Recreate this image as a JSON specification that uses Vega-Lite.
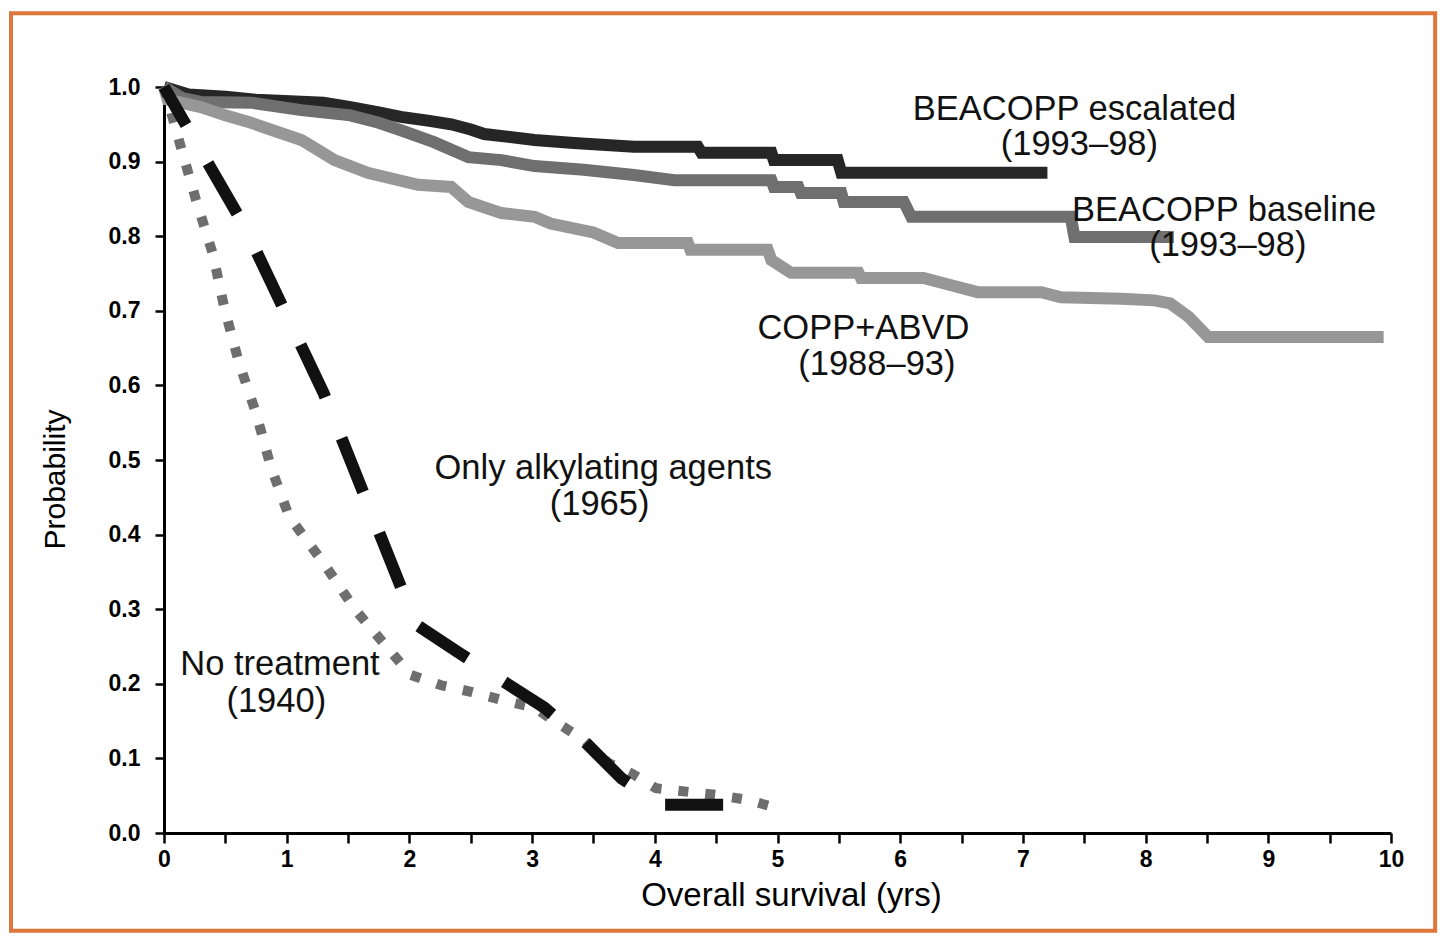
{
  "$schema": "https://vega.github.io/schema/vega-lite/v6.json",
  "width": 1227,
  "height": 746,
  "padding": {"left": 8, "top": 11, "right": 5, "bottom": 4},
  "background": "#ffffff",
  "config": {
    "view": {"stroke": null}
  },
  "datasets": {
    "frame": [
      {"t": -1.247, "t2": 10.36, "p": 1.099, "p2": -0.131}
    ],
    "curves": [
      {"curve": "esc", "t": 0, "p": 1.0},
      {"curve": "esc", "t": 0.2, "p": 0.99},
      {"curve": "esc", "t": 0.5, "p": 0.987},
      {"curve": "esc", "t": 0.75, "p": 0.983},
      {"curve": "esc", "t": 1.3, "p": 0.979},
      {"curve": "esc", "t": 1.52, "p": 0.973},
      {"curve": "esc", "t": 1.75, "p": 0.966},
      {"curve": "esc", "t": 1.93, "p": 0.96},
      {"curve": "esc", "t": 2.15, "p": 0.955},
      {"curve": "esc", "t": 2.34, "p": 0.95},
      {"curve": "esc", "t": 2.5, "p": 0.943},
      {"curve": "esc", "t": 2.61, "p": 0.937},
      {"curve": "esc", "t": 3.02, "p": 0.929},
      {"curve": "esc", "t": 3.34, "p": 0.925},
      {"curve": "esc", "t": 3.83, "p": 0.92},
      {"curve": "esc", "t": 4.35, "p": 0.92},
      {"curve": "esc", "t": 4.38, "p": 0.912},
      {"curve": "esc", "t": 4.95, "p": 0.912},
      {"curve": "esc", "t": 4.97, "p": 0.902},
      {"curve": "esc", "t": 5.49, "p": 0.902},
      {"curve": "esc", "t": 5.52, "p": 0.885},
      {"curve": "esc", "t": 7.2, "p": 0.885},

      {"curve": "base", "t": 0, "p": 1.0},
      {"curve": "base", "t": 0.15, "p": 0.985},
      {"curve": "base", "t": 0.3, "p": 0.98},
      {"curve": "base", "t": 0.71, "p": 0.979},
      {"curve": "base", "t": 1.12, "p": 0.969},
      {"curve": "base", "t": 1.52, "p": 0.962},
      {"curve": "base", "t": 1.75, "p": 0.952},
      {"curve": "base", "t": 1.93, "p": 0.942},
      {"curve": "base", "t": 2.2, "p": 0.926},
      {"curve": "base", "t": 2.48, "p": 0.906},
      {"curve": "base", "t": 2.75, "p": 0.902},
      {"curve": "base", "t": 3.02, "p": 0.894},
      {"curve": "base", "t": 3.42, "p": 0.889},
      {"curve": "base", "t": 3.83, "p": 0.882},
      {"curve": "base", "t": 4.16, "p": 0.875},
      {"curve": "base", "t": 4.95, "p": 0.875},
      {"curve": "base", "t": 4.97, "p": 0.866},
      {"curve": "base", "t": 5.17, "p": 0.866},
      {"curve": "base", "t": 5.19, "p": 0.858},
      {"curve": "base", "t": 5.52, "p": 0.858},
      {"curve": "base", "t": 5.54, "p": 0.846},
      {"curve": "base", "t": 6.03, "p": 0.846},
      {"curve": "base", "t": 6.09, "p": 0.826},
      {"curve": "base", "t": 7.39, "p": 0.826},
      {"curve": "base", "t": 7.42, "p": 0.799},
      {"curve": "base", "t": 8.23, "p": 0.799},

      {"curve": "copp", "t": 0, "p": 1.0},
      {"curve": "copp", "t": 0.03, "p": 0.983},
      {"curve": "copp", "t": 0.3, "p": 0.973},
      {"curve": "copp", "t": 0.5, "p": 0.962},
      {"curve": "copp", "t": 0.71, "p": 0.952},
      {"curve": "copp", "t": 0.92, "p": 0.94},
      {"curve": "copp", "t": 1.12, "p": 0.929},
      {"curve": "copp", "t": 1.39, "p": 0.902},
      {"curve": "copp", "t": 1.66, "p": 0.885},
      {"curve": "copp", "t": 2.07, "p": 0.869},
      {"curve": "copp", "t": 2.34, "p": 0.866},
      {"curve": "copp", "t": 2.48, "p": 0.846},
      {"curve": "copp", "t": 2.75, "p": 0.831},
      {"curve": "copp", "t": 3.02, "p": 0.826},
      {"curve": "copp", "t": 3.15, "p": 0.817},
      {"curve": "copp", "t": 3.5, "p": 0.805},
      {"curve": "copp", "t": 3.7, "p": 0.791},
      {"curve": "copp", "t": 4.27, "p": 0.791},
      {"curve": "copp", "t": 4.29, "p": 0.782},
      {"curve": "copp", "t": 4.92, "p": 0.782},
      {"curve": "copp", "t": 4.95, "p": 0.768},
      {"curve": "copp", "t": 5.11, "p": 0.751},
      {"curve": "copp", "t": 5.66, "p": 0.751},
      {"curve": "copp", "t": 5.68, "p": 0.744},
      {"curve": "copp", "t": 6.19, "p": 0.744},
      {"curve": "copp", "t": 6.4, "p": 0.735},
      {"curve": "copp", "t": 6.63, "p": 0.725},
      {"curve": "copp", "t": 7.15, "p": 0.725},
      {"curve": "copp", "t": 7.31, "p": 0.718},
      {"curve": "copp", "t": 7.8, "p": 0.716},
      {"curve": "copp", "t": 8.07, "p": 0.714},
      {"curve": "copp", "t": 8.2, "p": 0.71},
      {"curve": "copp", "t": 8.35, "p": 0.692},
      {"curve": "copp", "t": 8.45, "p": 0.675},
      {"curve": "copp", "t": 8.51, "p": 0.665},
      {"curve": "copp", "t": 9.94, "p": 0.665},

      {"curve": "notreat", "t": 0, "p": 1.0},
      {"curve": "notreat", "t": 0.14, "p": 0.918},
      {"curve": "notreat", "t": 0.26, "p": 0.849},
      {"curve": "notreat", "t": 0.4, "p": 0.775},
      {"curve": "notreat", "t": 0.49, "p": 0.705},
      {"curve": "notreat", "t": 0.61, "p": 0.631},
      {"curve": "notreat", "t": 0.75, "p": 0.563},
      {"curve": "notreat", "t": 0.87, "p": 0.491},
      {"curve": "notreat", "t": 1.02, "p": 0.424},
      {"curve": "notreat", "t": 1.3, "p": 0.362},
      {"curve": "notreat", "t": 1.56, "p": 0.299},
      {"curve": "notreat", "t": 1.87, "p": 0.239},
      {"curve": "notreat", "t": 2.01, "p": 0.212},
      {"curve": "notreat", "t": 2.26, "p": 0.198},
      {"curve": "notreat", "t": 2.51, "p": 0.189},
      {"curve": "notreat", "t": 2.76, "p": 0.178},
      {"curve": "notreat", "t": 3.02, "p": 0.168},
      {"curve": "notreat", "t": 3.21, "p": 0.147},
      {"curve": "notreat", "t": 3.42, "p": 0.125},
      {"curve": "notreat", "t": 3.62, "p": 0.094},
      {"curve": "notreat", "t": 3.81, "p": 0.08},
      {"curve": "notreat", "t": 4.01, "p": 0.06},
      {"curve": "notreat", "t": 4.28, "p": 0.055},
      {"curve": "notreat", "t": 4.51, "p": 0.051},
      {"curve": "notreat", "t": 4.77, "p": 0.044},
      {"curve": "notreat", "t": 4.96, "p": 0.035},

      {"curve": "alkyl", "t": 0, "p": 1.0},
      {"curve": "alkyl", "t": 0.65, "p": 0.815},
      {"curve": "alkyl", "t": 1.3, "p": 0.59},
      {"curve": "alkyl", "t": 1.93, "p": 0.33},
      {"curve": "alkyl", "t": 2.05, "p": 0.28},
      {"curve": "alkyl", "t": 2.4, "p": 0.242},
      {"curve": "alkyl", "t": 2.75, "p": 0.205},
      {"curve": "alkyl", "t": 3.1, "p": 0.168},
      {"curve": "alkyl", "t": 3.4, "p": 0.127},
      {"curve": "alkyl", "t": 3.73, "p": 0.073},
      {"curve": "alkyl", "t": 4.05, "p": 0.038},
      {"curve": "alkyl", "t": 4.56, "p": 0.038}
    ],
    "labels": [
      {"label": "BEACOPP escalated", "t": 7.42, "p": 0.969},
      {"label": "(1993–98)", "t": 7.46, "p": 0.922},
      {"label": "BEACOPP baseline", "t": 8.64, "p": 0.834},
      {"label": "(1993–98)", "t": 8.67, "p": 0.787},
      {"label": "COPP+ABVD", "t": 5.7, "p": 0.676},
      {"label": "(1988–93)", "t": 5.81, "p": 0.627},
      {"label": "Only alkylating agents", "t": 3.58, "p": 0.488},
      {"label": "(1965)", "t": 3.55, "p": 0.44},
      {"label": "No treatment", "t": 0.945, "p": 0.225},
      {"label": "(1940)", "t": 0.915, "p": 0.176}
    ]
  },
  "layer": [
    {
      "data": {"name": "frame"},
      "mark": {"type": "rect", "filled": false, "stroke": "#e0763c", "strokeWidth": 4},
      "encoding": {
        "x": {"field": "t", "type": "quantitative", "scale": {"domain": [0, 10], "nice": false, "zero": false},
          "axis": {
            "title": "Overall survival (yrs)",
            "values": [0, 0.5, 1, 1.5, 2, 2.5, 3, 3.5, 4, 4.5, 5, 5.5, 6, 6.5, 7, 7.5, 8, 8.5, 9, 9.5, 10],
            "labelExpr": "datum.value % 1 === 0 ? format(datum.value, 'd') : ''",
            "labelFlush": false,
            "grid": false,
            "domainColor": "#000000",
            "domainWidth": 3,
            "tickColor": "#000000",
            "tickWidth": 2.5,
            "tickSize": 10,
            "labelColor": "#000000",
            "labelFont": "Liberation Sans",
            "labelFontWeight": "bold",
            "labelFontSize": 23,
            "labelPadding": 5,
            "titleColor": "#000000",
            "titleFont": "Liberation Sans",
            "titleFontWeight": "normal",
            "titleFontSize": 33,
            "titlePadding": 8,
            "titleX": 627
          }
        },
        "x2": {"field": "t2"},
        "y": {"field": "p", "type": "quantitative", "scale": {"domain": [0, 1], "nice": false},
          "axis": {
            "title": "Probability",
            "values": [0, 0.1, 0.2, 0.3, 0.4, 0.5, 0.6, 0.7, 0.8, 0.9, 1.0],
            "format": ".1f",
            "grid": false,
            "domainColor": "#000000",
            "domainWidth": 3,
            "tickColor": "#000000",
            "tickWidth": 2.5,
            "tickSize": 9,
            "labelColor": "#000000",
            "labelFont": "Liberation Sans",
            "labelFontWeight": "bold",
            "labelFontSize": 23,
            "labelPadding": 15,
            "titleColor": "#000000",
            "titleFont": "Liberation Sans",
            "titleFontWeight": "normal",
            "titleFontSize": 30,
            "titlePadding": 38,
            "titleY": 392
          }
        },
        "y2": {"field": "p2"}
      }
    },
    {
      "data": {"name": "curves"},
      "encoding": {
        "x": {"field": "t", "type": "quantitative"},
        "y": {"field": "p", "type": "quantitative"}
      },
      "layer": [
        {
          "transform": [{"filter": "datum.curve === 'esc'"}],
          "mark": {"type": "line", "color": "#262626", "strokeWidth": 12}
        },
        {
          "transform": [{"filter": "datum.curve === 'base'"}],
          "mark": {"type": "line", "color": "#6f6f6f", "strokeWidth": 12}
        },
        {
          "transform": [{"filter": "datum.curve === 'copp'"}],
          "mark": {"type": "line", "color": "#979797", "strokeWidth": 12}
        },
        {
          "transform": [{"filter": "datum.curve === 'notreat'"}],
          "mark": {"type": "line", "color": "#6e6e6e", "strokeWidth": 10, "strokeDash": [10, 17]}
        },
        {
          "transform": [{"filter": "datum.curve === 'alkyl'"}],
          "mark": {"type": "line", "color": "#111111", "strokeWidth": 12, "strokeDash": [58, 44], "strokeDashOffset": 14}
        }
      ]
    },
    {
      "data": {"name": "labels"},
      "mark": {"type": "text", "align": "center", "baseline": "middle", "fontSize": 34.5, "font": "Liberation Sans", "color": "#111111"},
      "encoding": {
        "x": {"field": "t", "type": "quantitative"},
        "y": {"field": "p", "type": "quantitative"},
        "text": {"field": "label"}
      }
    }
  ]
}
